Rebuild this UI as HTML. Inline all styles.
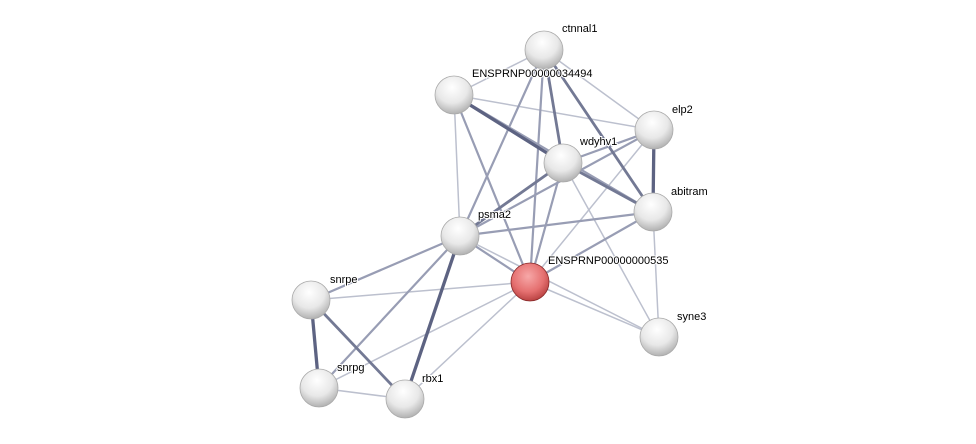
<!DOCTYPE html>
<html><head><style>
html,body{margin:0;padding:0;background:#fff;width:976px;height:444px;overflow:hidden}
text{font-family:"Liberation Sans",sans-serif;font-size:11px;fill:#000;paint-order:stroke;stroke:#fff;stroke-width:2px}
</style></head><body>
<svg width="976" height="444" viewBox="0 0 976 444" xmlns="http://www.w3.org/2000/svg">
<defs>
<radialGradient id="g" cx="0.45" cy="0.3" r="0.75">
<stop offset="0" stop-color="#ffffff"/><stop offset="0.55" stop-color="#e8e8e8"/><stop offset="1" stop-color="#a8a8a8"/></radialGradient>
<radialGradient id="r" cx="0.45" cy="0.35" r="0.75">
<stop offset="0" stop-color="#f7a8a8"/><stop offset="0.55" stop-color="#e57070"/><stop offset="1" stop-color="#a83030"/></radialGradient>
</defs>
<g stroke-linecap="round">
<g stroke="#bcc0ce" stroke-width="1.5">
<line x1="544" y1="50" x2="454" y2="95"/>
<line x1="544" y1="50" x2="654" y2="130"/>
<line x1="454" y1="95" x2="654" y2="130"/>
<line x1="454" y1="95" x2="460" y2="236"/>
<line x1="563" y1="163" x2="659" y2="337"/>
<line x1="653" y1="212" x2="659" y2="337"/>
<line x1="530" y1="282" x2="659" y2="337"/>
<line x1="460" y1="236" x2="659" y2="337"/>
<line x1="530" y1="282" x2="311" y2="300"/>
<line x1="530" y1="282" x2="319" y2="388"/>
<line x1="530" y1="282" x2="405" y2="399"/>
<line x1="319" y1="388" x2="405" y2="399"/>
<line x1="654" y1="130" x2="530" y2="282"/>
</g>
<g stroke="#989db4" stroke-width="2.2">
<line x1="544" y1="50" x2="460" y2="236"/>
<line x1="544" y1="50" x2="530" y2="282"/>
<line x1="454" y1="95" x2="653" y2="212"/>
<line x1="454" y1="95" x2="530" y2="282"/>
<line x1="654" y1="130" x2="563" y2="163"/>
<line x1="654" y1="130" x2="460" y2="236"/>
<line x1="563" y1="163" x2="530" y2="282"/>
<line x1="653" y1="212" x2="460" y2="236"/>
<line x1="653" y1="212" x2="530" y2="282"/>
<line x1="460" y1="236" x2="530" y2="282"/>
<line x1="460" y1="236" x2="311" y2="300"/>
<line x1="460" y1="236" x2="319" y2="388"/>
</g>
<g stroke="#737994" stroke-width="2.8">
<line x1="544" y1="50" x2="563" y2="163"/>
<line x1="544" y1="50" x2="653" y2="212"/>
<line x1="563" y1="163" x2="460" y2="236"/>
<line x1="563" y1="163" x2="653" y2="212"/>
<line x1="311" y1="300" x2="405" y2="399"/>
</g>
<g stroke="#5d6382" stroke-width="3.3">
<line x1="454" y1="95" x2="563" y2="163"/>
<line x1="654" y1="130" x2="653" y2="212"/>
<line x1="460" y1="236" x2="405" y2="399"/>
<line x1="311" y1="300" x2="319" y2="388"/>
</g>
</g>
<g stroke="#aaa" stroke-width="0.8">
<circle cx="544" cy="50" r="19" fill="url(#g)"/>
<circle cx="454" cy="95" r="19" fill="url(#g)"/>
<circle cx="654" cy="130" r="19" fill="url(#g)"/>
<circle cx="563" cy="163" r="19" fill="url(#g)"/>
<circle cx="653" cy="212" r="19" fill="url(#g)"/>
<circle cx="460" cy="236" r="19" fill="url(#g)"/>
<circle cx="530" cy="282" r="19" fill="url(#r)" stroke="#8a2a2a"/>
<circle cx="311" cy="300" r="19" fill="url(#g)"/>
<circle cx="659" cy="337" r="19" fill="url(#g)"/>
<circle cx="319" cy="388" r="19" fill="url(#g)"/>
<circle cx="405" cy="399" r="19" fill="url(#g)"/>
</g>
<text x="562" y="32">ctnnal1</text>
<text x="472" y="77">ENSPRNP00000034494</text>
<text x="672" y="113">elp2</text>
<text x="580" y="145">wdyhv1</text>
<text x="671" y="195">abitram</text>
<text x="478" y="218">psma2</text>
<text x="548" y="264">ENSPRNP00000000535</text>
<text x="330" y="283">snrpe</text>
<text x="677" y="320">syne3</text>
<text x="337" y="371">snrpg</text>
<text x="422" y="382">rbx1</text>
</svg>
</body></html>
